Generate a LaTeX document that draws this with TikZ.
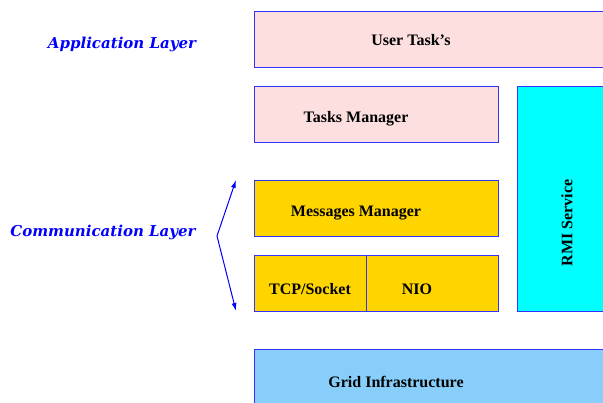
\documentclass[tikz,border=0pt]{standalone}
\usepackage{fontspec}
\setmainfont{Liberation Serif}
\newfontfamily\labelfont{DejaVu Serif}
\usetikzlibrary{arrows.meta}
\definecolor{pinkfill}{HTML}{FDDFE0}
\definecolor{goldfill}{HTML}{FFD500}
\definecolor{cyanfill}{HTML}{00FFFF}
\definecolor{skyfill}{HTML}{87CEFA}
\definecolor{edgeblue}{HTML}{3333FF}
\tikzset{
  layerbox/.style={draw=edgeblue, line width=1.2pt, rectangle, inner sep=0pt, anchor=north west},
  boxtext/.style={font=\fontsize{16}{19}\selectfont\bfseries, text=black, inner sep=0pt},
  layerlabel/.style={font=\labelfont\fontsize{15}{18}\selectfont\bfseries\itshape, text=blue, inner sep=0pt},
  brace/.style={draw=blue, line width=1pt, -{Latex[length=8pt,width=5pt]}}
}
\begin{document}
\begin{tikzpicture}[x=1pt,y=-1pt]
\useasboundingbox (0,0) rectangle (603,403);
% boxes
\node[layerbox, fill=pinkfill, minimum width=360, minimum height=56] (user) at (254,11) {};
\node[layerbox, fill=pinkfill, minimum width=244, minimum height=56] (tasks) at (254,86) {};
\node[layerbox, fill=cyanfill, minimum width=100, minimum height=225] (rmi) at (517,86) {};
\node[layerbox, fill=goldfill, minimum width=244, minimum height=56] (msg) at (254,180) {};
\node[layerbox, fill=goldfill, minimum width=112, minimum height=56] (tcp) at (254,255) {};
\node[layerbox, fill=goldfill, minimum width=132, minimum height=56] (nio) at (366,255) {};
\node[layerbox, fill=skyfill, minimum width=360, minimum height=60] (grid) at (254,349) {};
% texts
\node[boxtext] (userT) at (411,40) {User Task’s};
\node[boxtext] (tasksT) at (356,119) {Tasks Manager};
\node[boxtext, rotate=90] (rmiT) at (567,223) {RMI Service};
\node[boxtext] (msgT) at (356,213) {Messages Manager};
\node[boxtext] (tcpT) at (310,289) {TCP/Socket};
\node[boxtext] (nioT) at (417,289) {NIO};
\node[boxtext] (gridT) at (396,382) {Grid Infrastructure};
% layer labels
\node[layerlabel] (app) at (122,44) {Application Layer};
\node[layerlabel] (comm) at (103,232) {Communication Layer};
% arrows
\coordinate (v) at (217,236);
\coordinate (up) at (236,180);
\coordinate (down) at (236,311);
\draw[brace] (v) -- (up);
\draw[brace] (v) -- (down);
\end{tikzpicture}
\end{document}
